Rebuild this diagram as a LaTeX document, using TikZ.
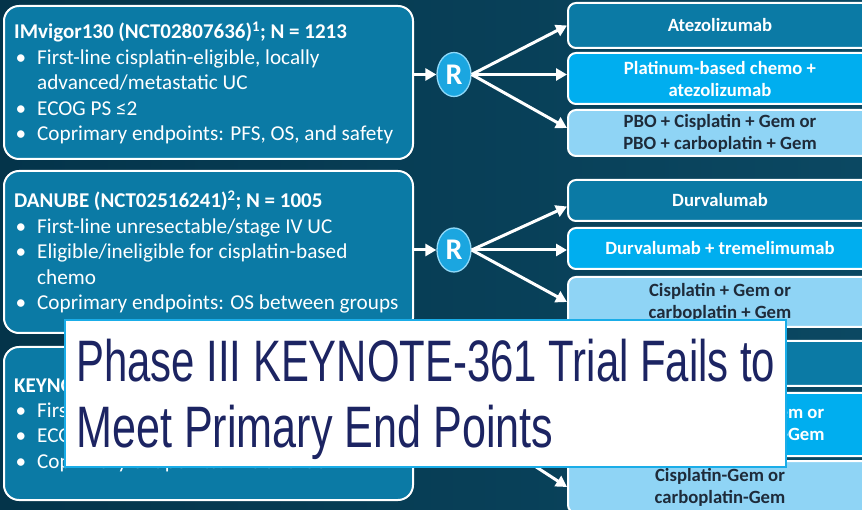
\documentclass[tikz,border=0pt]{standalone}
\usepackage{fontspec}
\usepackage{graphicx}
\setmainfont{Carlito}
\newfontfamily\headfont{Liberation Sans}
\usetikzlibrary{arrows.meta,calc,shapes.geometric}

\definecolor{bgdark}{HTML}{04344A}
\definecolor{bglight}{HTML}{0B4862}
\definecolor{trialblue}{HTML}{0B7AA5}
\definecolor{armcyan}{HTML}{00AEEF}
\definecolor{armlight}{HTML}{8FD4F5}
\definecolor{armtext}{HTML}{1E2B3A}
\definecolor{rfill}{HTML}{1BA6E0}
\definecolor{rborder}{HTML}{8ED8F8}
\definecolor{headcyan}{HTML}{1AADE8}
\definecolor{headnavy}{HTML}{1C2462}

% bullet and continuation indents for the trial descriptions
\newcommand\trialitem{\makebox[23pt][l]{\hspace{1.5pt}\textbullet}}
\newcommand\trialcont{\hspace*{23pt}}
\newcommand\trialtitle[1]{{\bfseries\fontsize{21}{25.5}\selectfont #1}}

\tikzset{
  trialbox/.style={draw=white, line width=2pt, fill=trialblue, rounded corners=15pt, inner sep=0pt},
  trialtext/.style={text=white, anchor=base west, inner sep=0pt, font=\fontsize{21.2}{25.5}\selectfont},
  armbox/.style={draw=white, line width=2pt, rounded corners=8pt, inner sep=0pt,
    minimum width=304pt, font=\bfseries\fontsize{18.7}{22}\selectfont, align=center},
  armdark/.style={armbox, fill=trialblue, text=white},
  armmid/.style={armbox, fill=armcyan, text=white},
  armpale/.style={armbox, fill=armlight, text=armtext},
  randnode/.style={ellipse, draw=rborder, line width=1.3pt, fill=rfill, text=white,
    minimum width=34pt, minimum height=44pt, inner sep=0pt, font=\bfseries\fontsize{30}{30}\selectfont},
  flow/.style={draw=white, line width=3pt, -{Triangle[length=11pt,width=12pt]}},
  headbox/.style={draw=headcyan, line width=2.5pt, fill=white, inner sep=0pt},
}

\begin{document}
\begin{tikzpicture}[x=1pt, y=-1pt]
\useasboundingbox (0,0) rectangle (862,510);
\clip (0,0) rectangle (862,510);
\shade[left color=bgdark, right color=bglight] (0,0) rectangle (862,510);

% ---------- trial descriptions ----------
\node[trialbox, minimum width=409pt, minimum height=153pt] (imvbox) at (208.5,82.5) {};
\node[trialtext] (imvtext) at (14,39) {\parbox[t]{395pt}{%
  \trialtitle{IMvigor130 (NCT02807636)\textsuperscript{1}; N = 1213}\\
  \trialitem First-line cisplatin-eligible, locally\\
  \trialcont advanced/metastatic UC\\
  \trialitem ECOG PS ≤2\\
  \trialitem Coprimary endpoints: PFS, OS, and safety}};

\node[trialbox, minimum width=409pt, minimum height=162pt] (danbox) at (208.5,252) {};
\node[trialtext] (dantext) at (14,208) {\parbox[t]{395pt}{%
  \trialtitle{DANUBE (NCT02516241)\textsuperscript{2}; N = 1005}\\
  \trialitem First-line unresectable/stage IV UC\\
  \trialitem Eligible/ineligible for cisplatin-based\\
  \trialcont chemo\\
  \trialitem Coprimary endpoints: OS between groups}};

\node[trialbox, minimum width=409pt, minimum height=153pt] (keybox) at (208.5,423.5) {};
\node[trialtext] (keytext) at (14,392) {\parbox[t]{395pt}{%
  \trialtitle{KEYNOTE-361 (NCT02853305)\textsuperscript{3}; N = 1010}\\
  \trialitem First-line advanced/metastatic UC\\
  \trialitem ECOG PS ≤2\\
  \trialitem Coprimary endpoints: PFS and OS}};

% ---------- randomisation ----------
\node[randnode] (r1) at (454,74.5) {R};
\node[randnode] (r2) at (454,250) {R};
\node[randnode] (r3) at (454,425) {R};

% ---------- treatment arms ----------
\node[armdark, minimum height=45pt] (a1) at (720,25.5) {Atezolizumab};
\node[armmid,  minimum height=51pt] (b1) at (720,78.5) {Platinum-based chemo +\\atezolizumab};
\node[armpale, minimum height=46pt] (c1) at (720,133) {PBO + Cisplatin + Gem or\\PBO + carboplatin + Gem};

\node[armdark, minimum height=41pt] (a2) at (720,200.5) {Durvalumab};
\node[armmid,  minimum height=41pt] (b2) at (720,248.5) {Durvalumab + tremelimumab};
\node[armpale, minimum height=50pt] (c2) at (720,302) {Cisplatin + Gem or\\carboplatin + Gem};

\node[armdark, minimum height=45pt] (a3) at (720,363.5) {Pembrolizumab};
\node[armmid,  minimum height=63pt] (b3) at (720,424.5) {Pembro + Cisplatin-Gem or\\Pembro + carboplatin-Gem};
\node[armpale, minimum height=52pt] (c3) at (720,487) {Cisplatin-Gem or\\carboplatin-Gem};

% ---------- connectors ----------
\draw[flow] (imvbox.east |- r1) -- (r1.west);
\draw[flow] (r1.east) -- (a1.west);
\draw[flow] (r1.east) -- (r1.east -| b1.west);
\draw[flow] (r1.east) -- ($(c1.west)+(0,-5)$);

\draw[flow] (danbox.east |- r2) -- (r2.west);
\draw[flow] (r2.east) -- ($(a2.west)+(0,6)$);
\draw[flow] (r2.east) -- (r2.east -| b2.west);
\draw[flow] (r2.east) -- (c2.west);

\draw[flow] (keybox.east |- r3) -- (r3.west);
\draw[flow] (r3.east) -- (a3.west);
\draw[flow] (r3.east) -- (r3.east -| b3.west);
\draw[flow] (r3.east) -- (c3.west);

% ---------- headline banner ----------
\node[headbox, minimum width=721pt, minimum height=147pt] (headline) at (425.5,393.5) {};
\node[anchor=base west, inner sep=0pt, text=headnavy] (headtext) at (76,382) {\parbox[t]{720pt}{%
  \headfont\fontsize{58.5}{66}\selectfont
  \resizebox{699pt}{\height}{Phase III KEYNOTE-361 Trial Fails to}\\
  \resizebox{477pt}{\height}{Meet Primary End Points}}};
\end{tikzpicture}
\end{document}
